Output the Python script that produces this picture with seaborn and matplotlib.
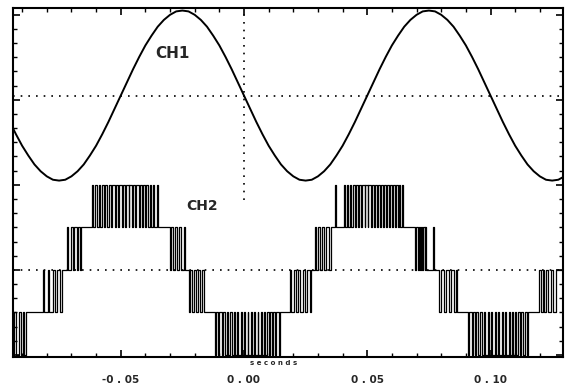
import numpy as np
import pandas as pd
import matplotlib
matplotlib.use("Agg")
import matplotlib.pyplot as plt
import matplotlib.transforms as mtransforms
from matplotlib.ticker import MultipleLocator
import seaborn as sns

# ---------------- data ----------------
# CH1: samples every 2.5 ms from -95 ms to +130 ms (scope divisions)
ch1_t_ms = np.linspace(-95.0, 130.0, 91)
ch1_val = [
    -0.62, -0.91, -1.18, -1.41, -1.62, -1.78, -1.90, -1.98, -2.00, -1.98,
    -1.90, -1.78, -1.62, -1.41, -1.18, -0.91, -0.62, -0.31, 0.00, 0.31,
    0.62, 0.91, 1.18, 1.41, 1.62, 1.78, 1.90, 1.98, 2.00, 1.98,
    1.90, 1.78, 1.62, 1.41, 1.18, 0.91, 0.62, 0.31, 0.00,
    -0.31, -0.62, -0.91, -1.18, -1.41, -1.62, -1.78, -1.90, -1.98, -2.00,
    -1.98, -1.90, -1.78, -1.62, -1.41, -1.18, -0.91, -0.62, -0.31, 0.00,
    0.31, 0.62, 0.91, 1.18, 1.41, 1.62, 1.78, 1.90, 1.98, 2.00,
    1.98, 1.90, 1.78, 1.62, 1.41, 1.18, 0.91, 0.62, 0.31, 0.00,
    -0.31, -0.62, -0.91, -1.18, -1.41, -1.62, -1.78, -1.90, -1.98, -2.00,
    -1.98, -1.90,
]

# CH2: multilevel PWM staircase, switching instants (ms) and level after each
ch2_t_ms = [
    -96.0,
    -93.2, -92.4, -91.4, -90.6, -89.8, -89.2, -88.6,
    -81.5, -81.0, -79.6, -78.9, -77.6, -76.7, -75.7, -74.6, -73.9,
    -71.8, -71.3, -70.3, -69.5, -68.8, -67.7, -67.2, -66.6, -66.0,
    -61.70, -61.30, -60.32, -59.82, -58.94, -58.34, -57.56, -56.86, -56.18, -55.38,
    -54.80, -53.90, -53.42, -52.42, -52.04, -50.99, -50.66, -49.56, -49.28, -48.13,
    -47.90, -46.75, -46.52, -45.42, -45.14, -44.09, -43.76, -42.76, -42.38, -41.48,
    -41.00, -40.20, -39.62, -38.92, -38.24, -37.64, -36.86, -36.36, -35.48, -35.08,
    -30.0, -29.6, -28.6, -28.0, -27.1, -26.2, -25.5, -24.4, -23.8,
    -22.5, -22.0, -21.0, -20.3, -19.5, -18.6, -18.0, -17.0, -16.4,
    -11.80, -11.40, -10.44, -9.94, -9.08, -8.48, -7.72, -7.02, -6.36, -5.56,
    -5.00, -4.10, -3.64, -2.64, -2.28, -1.23, -0.92, 0.18, 0.44, 1.59,
    1.80, 2.95, 3.16, 4.26, 4.52, 5.57, 5.88, 6.88, 7.24, 8.14,
    8.60, 9.40, 9.96, 10.66, 11.32, 11.92, 12.68, 13.18, 14.04, 14.44,
    18.7, 19.2, 20.3, 21.0, 22.0, 22.9, 23.8, 24.9, 25.7, 26.6, 27.3,
    28.8, 29.3, 30.1, 30.8, 31.5, 32.4, 33.3, 34.4, 35.3,
    36.9, 37.3,
    40.50, 40.90, 41.75, 42.25, 43.00, 43.60, 44.25, 44.95, 45.50, 46.30,
    46.75, 47.60, 48.00, 48.95, 49.25, 50.25, 50.50, 51.55, 51.75, 52.80,
    53.00, 54.05, 54.25, 55.30, 55.50, 56.50, 56.75, 57.70, 58.00, 58.85,
    59.25, 60.00, 60.50, 61.15, 61.75, 62.30, 63.00, 63.45, 64.25, 64.60,
    69.4, 69.8, 70.4, 70.9, 71.4, 71.9, 72.4, 72.8, 73.3, 73.6, 74.0, 76.5, 76.9,
    79.3, 79.8, 81.2, 81.9, 83.2, 84.0, 85.0, 85.8, 86.4,
    90.9, 91.3, 92.3, 92.8, 93.7, 94.3, 95.1, 95.8, 96.5, 97.3,
    97.9, 98.8, 99.3, 100.3, 100.7, 101.8, 102.1, 103.2, 103.5, 104.6,
    104.9, 106.0, 106.3, 107.3, 107.7, 108.6, 109.1, 109.9, 110.5, 111.2,
    111.9, 112.5, 113.3, 113.8, 114.7, 115.1,
    119.8, 120.3, 121.1, 121.7, 122.5, 123.3, 124.4, 125.4, 126.4,
    131.0,
]
ch2_lvl = [
    -2,
    -1, -2, -1, -2, -1, -2, -1,
    0, -1, 0, -1, 0, -1, 0, -1, 0,
    1, 0, 1, 0, 1, 0, 1, 0, 1,
    2, 1, 2, 1, 2, 1, 2, 1, 2, 1,
    2, 1, 2, 1, 2, 1, 2, 1, 2, 1,
    2, 1, 2, 1, 2, 1, 2, 1, 2, 1,
    2, 1, 2, 1, 2, 1, 2, 1, 2, 1,
    0, 1, 0, 1, 0, 1, 0, 1, 0,
    -1, 0, -1, 0, -1, 0, -1, 0, -1,
    -2, -1, -2, -1, -2, -1, -2, -1, -2, -1,
    -2, -1, -2, -1, -2, -1, -2, -1, -2, -1,
    -2, -1, -2, -1, -2, -1, -2, -1, -2, -1,
    -2, -1, -2, -1, -2, -1, -2, -1, -2, -1,
    0, -1, 0, -1, 0, -1, 0, -1, 0, -1, 0,
    1, 0, 1, 0, 1, 0, 1, 0, 1,
    2, 1,
    2, 1, 2, 1, 2, 1, 2, 1, 2, 1,
    2, 1, 2, 1, 2, 1, 2, 1, 2, 1,
    2, 1, 2, 1, 2, 1, 2, 1, 2, 1,
    2, 1, 2, 1, 2, 1, 2, 1, 2, 1,
    0, 1, 0, 1, 0, 1, 0, 1, 0, 1, 0, 1, 0,
    -1, 0, -1, 0, -1, 0, -1, 0, -1,
    -2, -1, -2, -1, -2, -1, -2, -1, -2, -1,
    -2, -1, -2, -1, -2, -1, -2, -1, -2, -1,
    -2, -1, -2, -1, -2, -1, -2, -1, -2, -1,
    -2, -1, -2, -1, -2, -1,
    0, -1, 0, -1, 0, -1, 0, -1, 0,
    0,
]

x_ticks = [-0.05, 0.00, 0.05, 0.10]
x_tick_labels = ["-0 . 05", "0 . 00", "0 . 05", "0 . 10"]
channel_labels = ["CH1", "CH2"]
x_label = "s e c o n d s"

# ---------------- layout / style ----------------
CH1_OFFSET = 6.1
CH2_OFFSET = 2.0

sns.set_style("white")
plt.rcParams["font.family"] = ["DejaVu Sans"]

fig = plt.figure(figsize=(5.67, 3.87), dpi=100)
ax = fig.add_axes([13 / 567, 30 / 387, 550 / 567, 349 / 387])

df1 = pd.DataFrame({"t": ch1_t_ms / 1000.0, "v": np.array(ch1_val) + CH1_OFFSET})
df2 = pd.DataFrame({"t": np.array(ch2_t_ms) / 1000.0,
                    "v": np.array(ch2_lvl, dtype=float) + CH2_OFFSET})

dot = (0, (1.0, 3.6))
ax.axhline(CH1_OFFSET, color="black", lw=1.2, ls=dot, zorder=1)
ax.axhline(CH2_OFFSET, color="black", lw=1.2, ls=dot, zorder=1)
ax.axvline(0.0, ymin=0.45, color="black", lw=1.2, ls=dot, zorder=1)

sns.lineplot(data=df1, x="t", y="v", ax=ax, color="black", lw=1.4,
             estimator=None, sort=False, zorder=3)
sns.lineplot(data=df2, x="t", y="v", ax=ax, color="black", lw=0.9,
             estimator=None, sort=False, drawstyle="steps-post", zorder=3)

ax.set_xlim(-0.0937, 0.1294)
ax.set_ylim(-0.05, 8.16)
ax.set_xlabel("")
ax.set_ylabel("")

ax.text(-0.029, 7.1, channel_labels[0], fontsize=11, fontweight="bold",
        ha="center", va="center")
ax.text(-0.0170, 3.5, channel_labels[1], fontsize=10, fontweight="bold",
        ha="center", va="center")

trans = mtransforms.blended_transform_factory(ax.transData, ax.transAxes)
ax.text(0.012, -0.017, x_label, transform=trans, fontsize=5, fontweight="bold",
        ha="center", va="center")

ax.set_xticks(x_ticks)
ax.set_xticklabels(x_tick_labels)
ax.xaxis.set_minor_locator(MultipleLocator(0.01))
ax.set_yticks([0, 2, 4, 6, 8])
ax.set_yticklabels([])
ax.yaxis.set_minor_locator(MultipleLocator(1 / 3))

ax.tick_params(which="both", direction="in", top=True, bottom=True,
               left=True, right=True, color="black")
ax.tick_params(which="major", length=5, width=1.2)
ax.tick_params(which="minor", length=3, width=1.0)
ax.tick_params(axis="x", which="major", pad=13, labelsize=7.5)
for lab in ax.get_xticklabels():
    lab.set_fontweight("bold")

for sp in ax.spines.values():
    sp.set_color("black")
    sp.set_linewidth(1.5)

fig.savefig("out.png", dpi=100, facecolor="white")
